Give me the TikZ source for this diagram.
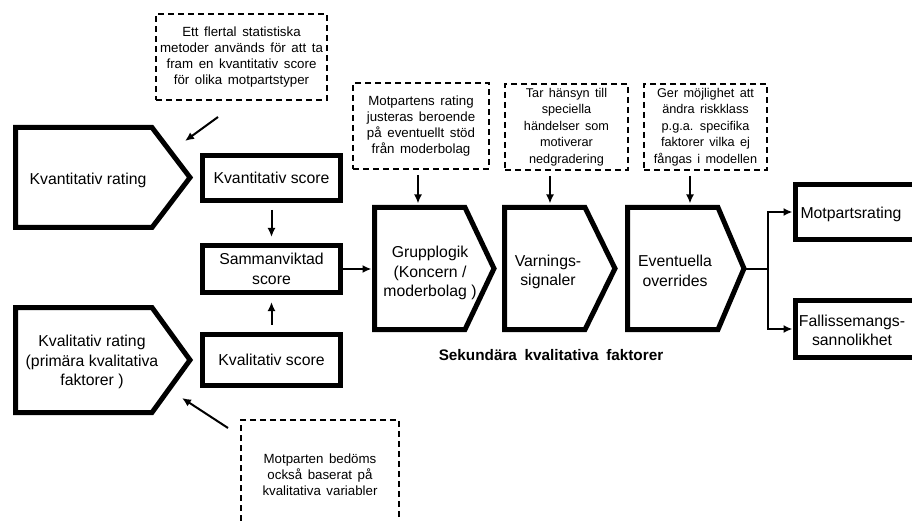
\documentclass[tikz,border=0pt]{standalone}
\usepackage{fontspec}
\setmainfont{Liberation Sans}
\usetikzlibrary{arrows.meta}
\newcommand\widespace[1]{\spaceskip=#1em\relax}

\begin{document}
\begin{tikzpicture}[x=1pt,y=-1pt,line join=miter,
  frame/.style={draw,line width=5pt,inner sep=0pt},
  note/.style={draw,line width=2pt,dash pattern=on 6pt off 4pt,inner sep=0pt,
    align=center,font=\fontsize{13.3}{16}\selectfont\widespace{0.42}},
  tall note/.style={note,font=\fontsize{12.7}{16.6}\selectfont\widespace{0.42}},
  words/.style={align=center,font=\fontsize{15.8}{19.5}\selectfont},
  link/.style={line width=2pt,-{Latex[length=9pt,width=8pt]}}]
  \useasboundingbox (0,0) rectangle (912,521);
  \clip (0,0) rectangle (912,521);

  \coordinate (quantTail) at (218,117);
  \coordinate (quantHead) at (185,141);
  \coordinate (qualTail) at (228,428);
  \coordinate (qualHead) at (182,398);
  \coordinate (grpIn) at (371.5,269);
  \coordinate (grpTop) at (418,203.5);
  \coordinate (warnTop) at (550,203.5);
  \coordinate (overTop) at (690,203.5);
  \coordinate (overTip) at (744,268.5);
  \coordinate (fork) at (768,268.5);

  \draw[line width=5pt] (15.5,127.5) -- (152,127.5) -- (190,177.5) -- (152,227.5) -- (15.5,227.5) -- cycle;
  \draw[line width=5pt] (15.5,307.5) -- (152,307.5) -- (190,360) -- (152,412.5) -- (15.5,412.5) -- cycle;
  \foreach \l/\s/\t in {374.5/465/494,504.5/585/615,627.5/718/744}
    \draw[line width=5pt] (\l,207.5) -- (\s,207.5) -- (\t,268.5) -- (\s,329.5) -- (\l,329.5) -- cycle;

  \node[words] (quantRating) at (88,180) {Kvantitativ rating};
  \node[words] (qualRating) at (92,362) {Kvalitativ rating\\(primära kvalitativa\\faktorer )};
  \node[frame,words,minimum width=138pt,minimum height=45pt] (quantScore) at (271.5,178) {Kvantitativ score};
  \node[frame,words,minimum width=138pt,minimum height=47pt] (weighted) at (271.5,269) {Sammanviktad\\score};
  \node[frame,words,minimum width=138pt,minimum height=51pt] (qualScore) at (271.5,360) {Kvalitativ score};
  \node[words] (grp) at (430,273) {Grupplogik\\(Koncern /\\moderbolag )};
  \node[words] (warn) at (548,272) {Varnings-\\signaler};
  \node[words] (over) at (675,271) {Eventuella\\overrides};
  \node[frame,minimum width=145pt,minimum height=55pt,anchor=west] (rating) at (792.5,212) {};
  \node[frame,minimum width=145pt,minimum height=57pt,anchor=west] (pd) at (792.5,329) {};
  \node[words] (ratingText) at (851,214) {Motpartsrating};
  \node[words] (pdText) at (852,330.5) {Fallissemangs-\\sannolikhet};

  \node[note,minimum width=171pt,minimum height=86pt] (noteQuant) at (241.5,57)
    {Ett flertal statistiska\\metoder används för att ta\\fram en kvantitativ score\\för olika motpartstyper};
  \node[note,minimum width=136pt,minimum height=86pt] (noteGroup) at (421,126)
    {Motpartens rating\\justeras beroende\\på eventuellt stöd\\från moderbolag};
  \node[tall note,minimum width=123pt,minimum height=86pt] (noteWarn) at (566.5,127)
    {Tar hänsyn till\\speciella\\händelser som\\motiverar\\nedgradering};
  \node[tall note,minimum width=123pt,minimum height=86pt] (noteOver) at (705.5,127)
    {Ger möjlighet att\\ändra riskklass\\p.g.a. specifika\\faktorer vilka ej\\fångas i modellen};
  \node[note,minimum width=158pt,minimum height=109pt] (noteQual) at (320,474.5)
    {Motparten bedöms\\också baserat på\\kvalitativa variabler};
  \node[font=\bfseries\fontsize{15.3}{17}\selectfont\widespace{0.5}] (secondary) at (551,355) {Sekundära kvalitativa faktorer};

  \draw[link] (quantTail) -- (quantHead);
  \draw[link] (qualTail) -- (qualHead);
  \draw[link,shorten <=7pt,shorten >=6pt] (quantScore.south) -- (weighted.north);
  \draw[link,shorten <=7.5pt,shorten >=7pt] (qualScore.north) -- (weighted.south);
  \draw[link] (weighted.east) -- (grpIn);
  \draw[link,shorten <=5pt] (noteGroup.south -| grpTop) -- (grpTop);
  \draw[link,shorten <=5pt] (noteWarn.south -| warnTop) -- (warnTop);
  \draw[link,shorten <=5pt] (noteOver.south -| overTop) -- (overTop);
  \draw[line width=2pt] (overTip) -- (fork);
  \draw[link] (fork) |- (rating.west);
  \draw[link] (fork) |- (pd.west);
\end{tikzpicture}
\end{document}
